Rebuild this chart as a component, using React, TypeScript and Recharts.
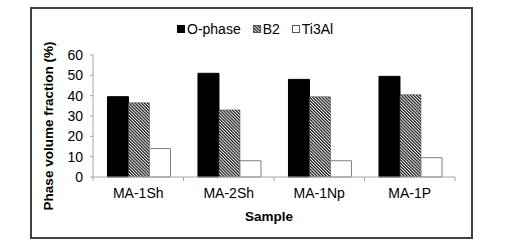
import React from "react";
import { BarChart, Bar, XAxis, YAxis } from "recharts";

const samples = ["MA-1Sh", "MA-2Sh", "MA-1Np", "MA-1P"];
const oPhase = [39.5, 51, 48, 49.5];
const b2 = [36.5, 33, 39.5, 40.5];
const ti3al = [14, 8, 8, 9.5];
const yTicks = [0, 10, 20, 30, 40, 50, 60];
const seriesNames = ["O-phase", "B2", "Ti3Al"];

const data = samples.map((s, i) => ({
  sample: s,
  "O-phase": oPhase[i],
  B2: b2[i],
  Ti3Al: ti3al[i],
}));

const FONT = "'Liberation Sans', Arial, sans-serif";
const AXIS = "#a6a6a6";
const fills = ["#000", "url(#hatchB2)", "#fff"];
const strokes = ["#000", "#555", "#555"];

const LegendBox = () => (
  <div
    style={{
      position: "absolute",
      left: 177,
      top: 20,
      display: "flex",
      alignItems: "center",
      fontFamily: FONT,
      fontSize: 14,
      color: "#000",
      lineHeight: "18px",
    }}
  >
    {seriesNames.map((name, i) => (
      <div key={name} style={{ display: "flex", alignItems: "center", marginRight: i < 2 ? 12 : 0 }}>
        <svg width={8} height={8} style={{ marginRight: 2 }}>
          <rect x={0.5} y={0.5} width={7} height={7} fill={fills[i]} stroke={strokes[i]} strokeWidth={1} />
        </svg>
        <span>{name}</span>
      </div>
    ))}
  </div>
);

const XTick = (props: any) => {
  const { x, y, payload, index } = props;
  const half = 45.25;
  return (
    <g>
      <line x1={x - half} y1={y} x2={x - half} y2={y + 4} stroke={AXIS} />
      {index === samples.length - 1 && (
        <line x1={x + half} y1={y} x2={x + half} y2={y + 4} stroke={AXIS} />
      )}
      <text x={x} y={y + 21} textAnchor="middle" fontFamily={FONT} fontSize={14} fill="#000">
        {payload.value}
      </text>
    </g>
  );
};

export default function App() {
  return (
    <div style={{ position: "absolute", left: 0, top: 0, width: 523, height: 251, background: "#fff" }}>
      <svg width={0} height={0} style={{ position: "absolute" }}>
        <defs>
          <pattern id="hatchB2" patternUnits="userSpaceOnUse" width={2.2} height={2.2} patternTransform="rotate(-45)">
            <rect x={0} y={0} width={2.2} height={2.2} fill="#ffffff" />
            <rect x={0} y={0} width={1.25} height={2.2} fill="#1a1a1a" />
          </pattern>
        </defs>
      </svg>
      <div
        style={{
          position: "absolute",
          left: 30,
          top: 7,
          width: 439,
          height: 228,
          border: "2px solid #404040",
        }}
      />
      <LegendBox />
      <div style={{ position: "absolute", left: 0, top: 0 }}>
        <BarChart
          width={523}
          height={251}
          data={data}
          margin={{ top: 55, right: 68, left: 0, bottom: 0 }}
          barCategoryGap="16%"
          barGap={0}
        >
          <XAxis
            dataKey="sample"
            height={74}
            stroke={AXIS}
            tickLine={false}
            tickSize={0}
            tickMargin={0}
            tick={<XTick />}
            interval={0}
            label={{
              value: "Sample",
              content: () => (
                <text x={269} y={221} textAnchor="middle" fontFamily={FONT} fontSize={13.5} fontWeight="bold" fill="#000">
                  Sample
                </text>
              ),
            }}
          />
          <YAxis
            width={93}
            domain={[0, 60]}
            ticks={yTicks}
            interval={0}
            stroke={AXIS}
            tickSize={3}
            tickMargin={7}
            tick={{ fontFamily: FONT, fontSize: 14, fill: "#000" }}
            label={{
              value: "Phase volume fraction (%)",
              content: () => (
                <text
                  x={48}
                  y={126}
                  transform="rotate(-90 48 126)"
                  textAnchor="middle"
                  dominantBaseline="central"
                  fontFamily={FONT}
                  fontSize={13.5}
                  fontWeight="bold"
                  fill="#000"
                >
                  Phase volume fraction (%)
                </text>
              ),
            }}
          />
          <Bar dataKey="O-phase" fill={fills[0]} stroke={strokes[0]} isAnimationActive={false} />
          <Bar dataKey="B2" fill={fills[1]} stroke="#444" strokeWidth={0.5} isAnimationActive={false} />
          <Bar dataKey="Ti3Al" fill={fills[2]} stroke="#808080" strokeWidth={1} isAnimationActive={false} />
        </BarChart>
      </div>
    </div>
  );
}
